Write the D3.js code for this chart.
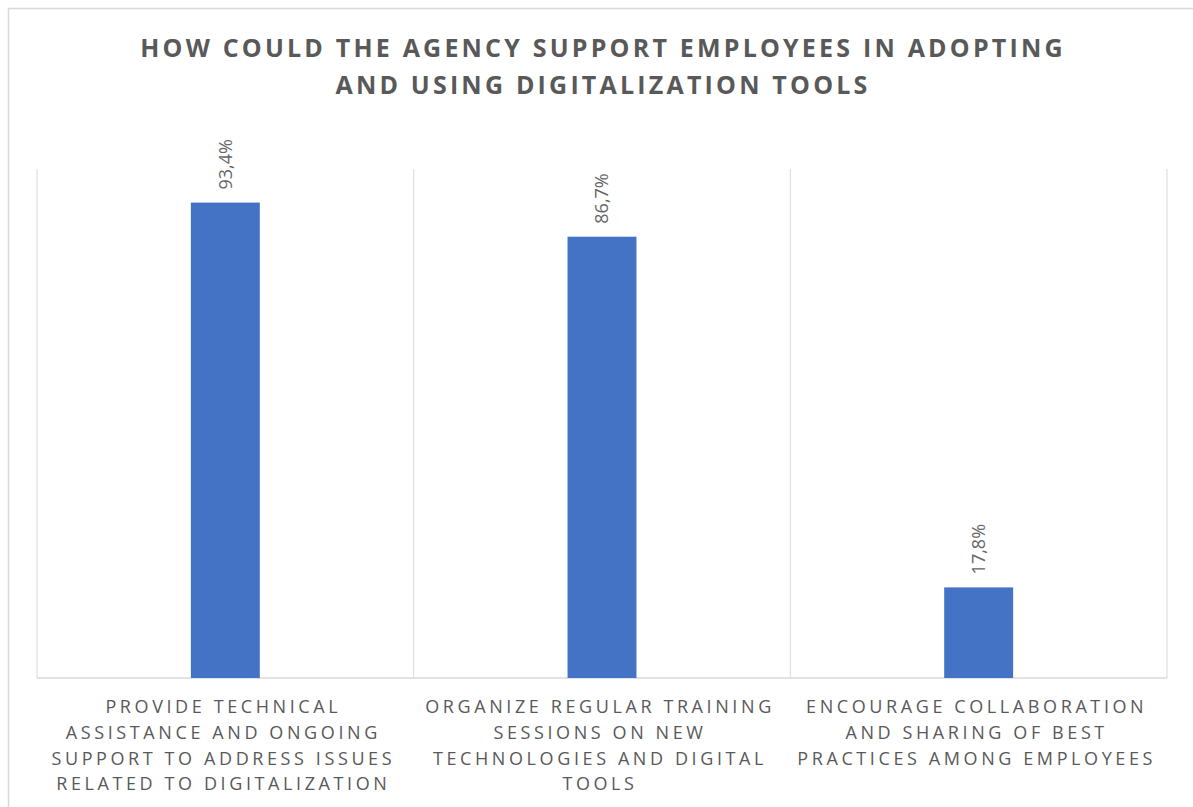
<!DOCTYPE html>
<html lang="en">
<head>
    <meta charset="UTF-8">
    <title>Digitalization support</title>
    <style>
        body {
            margin: 0;
            padding: 0;
            background: #fff;
            font-family: "Open Sans", Arial, sans-serif;
        }

        svg {
            display: block;
        }

        .title {
            font-weight: bold;
            font-size: 25px;
            letter-spacing: 3.2px;
            fill: #595959;
        }

        .cat {
            font-size: 18px;
            letter-spacing: 3.6px;
            fill: #595959;
        }

        .value {
            font-size: 18px;
            fill: #666;
        }
    </style>
</head>
<body>
    <div id="chart"></div>

    <script src="https://d3js.org/d3.v7.min.js"></script>
    <script>
        // Datos
        const categories = ["technical", "training", "collaboration"];
        const values = [93.4, 86.7, 17.8];
        const valueLabels = ["93,4%", "86,7%", "17,8%"];
        const categoryLines = [
            ["PROVIDE TECHNICAL", "ASSISTANCE AND ONGOING", "SUPPORT TO ADDRESS ISSUES", "RELATED TO DIGITALIZATION"],
            ["ORGANIZE REGULAR TRAINING", "SESSIONS ON NEW", "TECHNOLOGIES AND DIGITAL", "TOOLS"],
            ["ENCOURAGE COLLABORATION", "AND SHARING OF BEST", "PRACTICES AMONG EMPLOYEES"]
        ];
        const titleLines = ["HOW COULD THE AGENCY SUPPORT EMPLOYEES IN ADOPTING", "AND USING DIGITALIZATION TOOLS"];

        const width = 1193;
        const height = 807;
        const plot = { left: 37, right: 1167, top: 169, bottom: 678 };

        const svg = d3.select("#chart")
            .append("svg")
            .attr("width", width)
            .attr("height", height);

        // marco exterior
        svg.append("rect")
            .attr("x", 8.5)
            .attr("y", 8.5)
            .attr("width", 1200)
            .attr("height", 820)
            .attr("fill", "none")
            .attr("stroke", "#d9d9d9")
            .attr("stroke-width", 1.5);

        const x = d3.scaleBand()
            .domain(categories)
            .range([plot.left, plot.right]);

        const y = d3.scaleLinear()
            .domain([0, 100])
            .range([plot.bottom, plot.top]);

        // título
        svg.append("text")
            .attr("class", "title")
            .attr("text-anchor", "middle")
            .selectAll("tspan")
            .data(titleLines)
            .enter()
            .append("tspan")
            .attr("x", 603)
            .attr("y", (d, i) => 57 + i * 37)
            .text(d => d);

        // líneas verticales entre categorías
        const bounds = categories.map(c => x(c)).concat([plot.right]);
        svg.selectAll(".grid")
            .data(bounds)
            .enter()
            .append("line")
            .attr("class", "grid")
            .attr("x1", d => d)
            .attr("x2", d => d)
            .attr("y1", plot.top)
            .attr("y2", plot.bottom)
            .attr("stroke", "#d9d9d9")
            .attr("stroke-width", 1);

        // eje base
        svg.append("line")
            .attr("x1", plot.left)
            .attr("x2", plot.right)
            .attr("y1", y(0))
            .attr("y2", y(0))
            .attr("stroke", "#d9d9d9")
            .attr("stroke-width", 1.5);

        const barW = x.bandwidth() * 0.183;

        svg.selectAll(".bar")
            .data(values)
            .enter()
            .append("rect")
            .attr("class", "bar")
            .attr("x", (d, i) => x(categories[i]) + x.bandwidth() / 2 - barW / 2)
            .attr("y", d => y(d))
            .attr("width", barW)
            .attr("height", d => y(0) - y(d))
            .attr("fill", "#4472c4");

        // etiquetas de valor (verticales)
        svg.selectAll(".value")
            .data(values)
            .enter()
            .append("text")
            .attr("class", "value")
            .attr("transform", (d, i) => `translate(${x(categories[i]) + x.bandwidth() / 2}, ${y(d) - 13}) rotate(-90)`)
            .attr("dy", "0.35em")
            .text((d, i) => valueLabels[i]);

        // etiquetas de categoría
        categories.forEach((c, i) => {
            svg.append("text")
                .attr("class", "cat")
                .attr("text-anchor", "middle")
                .selectAll("tspan")
                .data(categoryLines[i])
                .enter()
                .append("tspan")
                .attr("x", x(c) + x.bandwidth() / 2 - 2)
                .attr("y", (d, j) => 713 + j * 25.8)
                .text(d => d);
        });
    </script>
</body>
</html>
